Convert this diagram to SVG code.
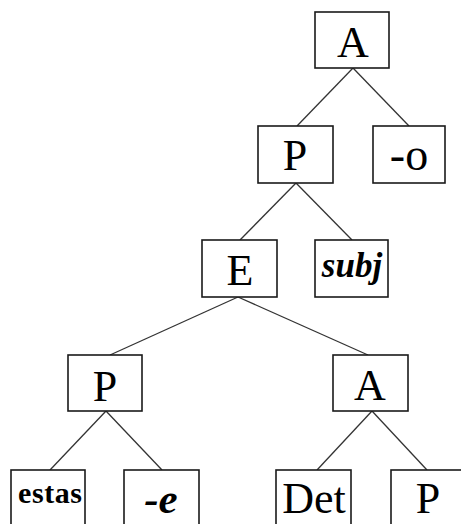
<svg xmlns="http://www.w3.org/2000/svg" width="461" height="524" viewBox="0 0 461 524">
<style>
.box{fill:#fff;stroke:#1a1a1a;stroke-width:1.6}
.edge{stroke:#333;stroke-width:1.3;fill:none}
.t{font-family:"Liberation Serif","Times New Roman",serif;font-size:44px;fill:#000;text-anchor:middle}
.bi{font-weight:bold;font-style:italic}
.b{font-weight:bold}
</style>
<rect width="461" height="524" fill="#fff"/>
<g id="connectors">
<line class="edge" x1="353" y1="68" x2="297" y2="126"/>
<line class="edge" x1="353" y1="68" x2="409" y2="126"/>
<line class="edge" x1="296" y1="183" x2="240" y2="240"/>
<line class="edge" x1="296" y1="183" x2="352" y2="240"/>
<line class="edge" x1="238" y1="297" x2="110" y2="355"/>
<line class="edge" x1="238" y1="297" x2="368" y2="355"/>
<line class="edge" x1="106" y1="411" x2="50" y2="470"/>
<line class="edge" x1="106" y1="411" x2="162" y2="470"/>
<line class="edge" x1="372" y1="411" x2="317" y2="470"/>
<line class="edge" x1="372" y1="411" x2="427" y2="470"/>
</g>
<g id="n-A-top"><rect class="box" x="315" y="12" width="74" height="56"/><text class="t" x="353" y="57">A</text></g>
<g id="n-P-2"><rect class="box" x="258" y="126" width="75" height="57"/><text class="t" x="295" y="170">P</text></g>
<g id="n-o"><rect class="box" x="373" y="126" width="72" height="57"/><text class="t" x="409" y="170" style="font-size:46px">-o</text></g>
<g id="n-E"><rect class="box" x="202" y="240" width="75" height="57"/><text class="t" x="240" y="285">E</text></g>
<g id="n-subj"><rect class="box" x="315" y="240" width="73" height="57"/><text class="t bi" x="352" y="277" style="font-size:35px">subj</text></g>
<g id="n-P-3"><rect class="box" x="68" y="355" width="74" height="56"/><text class="t" x="105" y="401">P</text></g>
<g id="n-A-3"><rect class="box" x="333" y="355" width="75" height="56"/><text class="t" x="370" y="400">A</text></g>
<g id="n-estas"><rect class="box" x="11" y="470" width="74" height="60"/><text class="t b" x="50" y="503" style="font-size:30px" textLength="64" lengthAdjust="spacing">estas</text></g>
<g id="n-e"><rect class="box" x="124" y="470" width="75" height="60"/><text class="t bi" x="161" y="513" style="font-size:43px">-e</text></g>
<g id="n-Det"><rect class="box" x="276" y="470" width="75" height="60"/><text class="t" x="314" y="513">Det</text></g>
<g id="n-P-4"><rect class="box" x="391" y="470" width="75" height="60"/><text class="t" x="428" y="513">P</text></g>
</svg>
